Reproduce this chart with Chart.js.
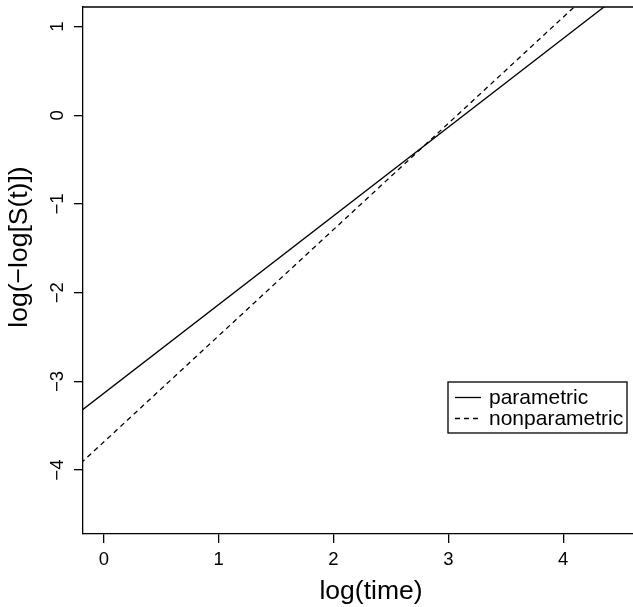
<!DOCTYPE html>
<html lang="en">
<head>
    <meta charset="UTF-8">
    <title>log(-log S(t)) vs log(time)</title>
    <script src="https://cdn.jsdelivr.net/npm/chart.js"></script>
    <style>
        html, body { margin: 0; padding: 0; background: #fff; }
        #wrap { width: 633px; height: 607px; position: relative; }
    </style>
</head>
<body>
    <div id="wrap">
        <canvas id="survChart"></canvas>
    </div>

    <script>
        // Line ends, read at the left and right of the plotted range
        const logTime = [-0.2, 4.7];
        const parametric = [-3.335, 1.565];
        const nonparametric = [-3.922, 1.943];

        const xTickValues = [0, 1, 2, 3, 4];
        const yTickValues = [-4, -3, -2, -1, 0, 1];
        const legendLabels = ['parametric', 'nonparametric'];

        const FONT = '"Liberation Sans", Arial, Helvetica, sans-serif';
        const LW = 1.3;

        function minusLabel(v) {
            return v < 0 ? '\u2212' + Math.abs(v) : String(v);
        }

        // Box edges, tick labels, axis titles and the legend, R style
        const basePlot = {
            id: 'basePlot',
            afterDraw(chart) {
                const ctx = chart.ctx;
                const area = chart.chartArea;
                const xs = chart.scales.x;
                const ys = chart.scales.y;

                ctx.save();
                ctx.strokeStyle = '#000';
                ctx.fillStyle = '#000';
                ctx.lineWidth = LW;

                // top edge of the box
                ctx.beginPath();
                ctx.moveTo(area.left, area.top);
                ctx.lineTo(area.right, area.top);
                ctx.stroke();

                // x tick labels
                ctx.font = '18.5px ' + FONT;
                ctx.textAlign = 'center';
                ctx.textBaseline = 'alphabetic';
                xTickValues.forEach(v => {
                    ctx.fillText(minusLabel(v), xs.getPixelForValue(v), 565);
                });

                // y tick labels, turned to read upwards
                yTickValues.forEach(v => {
                    ctx.save();
                    ctx.translate(63, ys.getPixelForValue(v));
                    ctx.rotate(-Math.PI / 2);
                    ctx.fillText(minusLabel(v), 0, 0);
                    ctx.restore();
                });

                // axis titles
                ctx.font = '26.5px ' + FONT;
                ctx.fillText('log(time)', 371, 599);
                ctx.save();
                ctx.translate(27, 247);
                ctx.rotate(-Math.PI / 2);
                ctx.fillText('log(\u2212log[S(t)])', 0, 0);
                ctx.restore();

                // legend
                const bx = 448, by = 382, bw = 179, bh = 51;
                ctx.lineWidth = LW;
                ctx.strokeRect(bx, by, bw, bh);
                ctx.font = '21px ' + FONT;
                ctx.textAlign = 'left';
                ctx.textBaseline = 'middle';
                const rows = [397.5, 418.5];
                chart.data.datasets.forEach((ds, i) => {
                    ctx.beginPath();
                    ctx.setLineDash(ds.borderDash || []);
                    ctx.lineWidth = ds.borderWidth;
                    ctx.moveTo(455, rows[i]);
                    ctx.lineTo(481, rows[i]);
                    ctx.stroke();
                    ctx.setLineDash([]);
                    ctx.fillText(legendLabels[i], 489, rows[i] + 1);
                });

                ctx.restore();
            }
        };

        const ctx = document.getElementById('survChart').getContext('2d');
        new Chart(ctx, {
            type: 'line',
            data: {
                datasets: [
                    {
                        label: legendLabels[0],
                        data: logTime.map((x, i) => ({ x: x, y: parametric[i] })),
                        borderColor: '#000',
                        borderWidth: 1.3,
                        pointRadius: 0,
                        fill: false
                    },
                    {
                        label: legendLabels[1],
                        data: logTime.map((x, i) => ({ x: x, y: nonparametric[i] })),
                        borderColor: '#000',
                        borderWidth: 1.3,
                        borderDash: [5, 4],
                        pointRadius: 0,
                        fill: false
                    }
                ]
            },
            options: {
                responsive: true,
                maintainAspectRatio: false,
                animation: false,
                events: [],
                layout: { padding: { top: 7, left: 0, right: 0, bottom: 0 } },
                plugins: {
                    legend: { display: false },
                    tooltip: { enabled: false }
                },
                scales: {
                    x: {
                        type: 'linear',
                        min: -0.181,
                        max: 4.608,
                        afterBuildTicks: s => { s.ticks = xTickValues.map(v => ({ value: v })); },
                        afterFit: s => { s.height = 73; },
                        ticks: { display: false },
                        grid: {
                            drawOnChartArea: false,
                            drawTicks: true,
                            tickLength: 9,
                            color: '#000',
                            lineWidth: LW
                        },
                        border: { display: true, color: '#000', width: LW }
                    },
                    y: {
                        type: 'linear',
                        min: -4.72,
                        max: 1.22,
                        afterBuildTicks: s => { s.ticks = yTickValues.map(v => ({ value: v })); },
                        afterFit: s => { s.width = 83; },
                        ticks: { display: false },
                        grid: {
                            drawOnChartArea: false,
                            drawTicks: true,
                            tickLength: 9,
                            color: '#000',
                            lineWidth: LW
                        },
                        border: { display: true, color: '#000', width: LW }
                    }
                }
            },
            plugins: [basePlot]
        });
    </script>
</body>
</html>
